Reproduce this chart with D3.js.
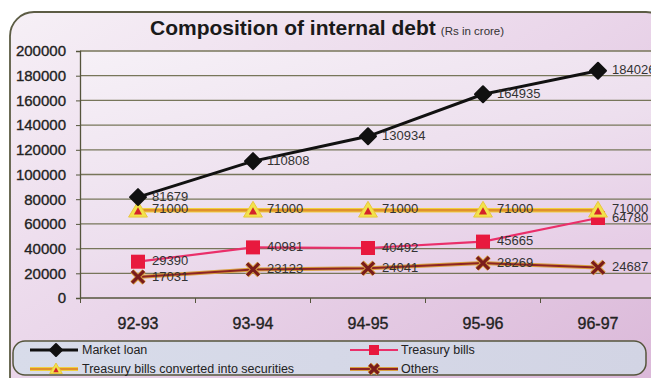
<!DOCTYPE html>
<html><head><meta charset="utf-8">
<script src="https://cdn.jsdelivr.net/npm/d3@7"></script>
<style>html,body{margin:0;padding:0;background:#fff;overflow:hidden}svg{display:block}text{font-family:"Liberation Sans",Arial,sans-serif}</style>
</head><body>
<svg id="c" width="651" height="378"></svg>
<script>
const categories = ["92-93","93-94","94-95","95-96","96-97"];
const marketLoan = [81679,110808,130934,164935,184026];
const treasuryBills = [29390,40981,40492,45665,64780];
const tbConverted = [71000,71000,71000,71000,71000];
const others = [17031,23123,24041,28269,24687];
const yTicks = [0,20000,40000,60000,80000,100000,120000,140000,160000,180000,200000];
const seriesNames = ["Market loan","Treasury bills","Treasury bills converted into securities","Others"];

const svg = d3.select("#c");
const defs = svg.append("defs");
const g1 = defs.append("linearGradient").attr("id","panel").attr("x1","0").attr("y1","0").attr("x2","1").attr("y2","1");
g1.append("stop").attr("offset","0").attr("stop-color","#f6f0f6");
g1.append("stop").attr("offset","0.45").attr("stop-color","#ead6ea");
g1.append("stop").attr("offset","1").attr("stop-color","#d9b5d7");
const g2 = defs.append("linearGradient").attr("id","plot").attr("x1","0").attr("y1","0").attr("x2","0.6").attr("y2","1");
g2.append("stop").attr("offset","0").attr("stop-color","#f6f1f7");
g2.append("stop").attr("offset","0.6").attr("stop-color","#eddfee");
g2.append("stop").attr("offset","1").attr("stop-color","#e6cde6");
const g3 = defs.append("linearGradient").attr("id","leg").attr("x1","0").attr("y1","0").attr("x2","1").attr("y2","0");
g3.append("stop").attr("offset","0").attr("stop-color","#d8dcea");
g3.append("stop").attr("offset","1").attr("stop-color","#d2d4e4");

// outer panel
svg.append("rect").attr("x",10).attr("y",12).attr("width",660).attr("height",400).attr("rx",24)
  .attr("fill","url(#panel)").attr("stroke","#5c5c44").attr("stroke-width",1.8);

const x = d3.scaleBand().domain(categories).range([80.5,655.5]).padding(0);
const y = d3.scaleLinear().domain([0,200000]).range([298,51]);
const cx = c => x(c) + x.bandwidth()/2;

// plot area
svg.append("rect").attr("x",80).attr("y",51).attr("width",575).attr("height",247).attr("fill","url(#plot)");

// gridlines
svg.append("g").selectAll("line").data(yTicks.filter(d=>d>0)).join("line")
  .attr("x1",80).attr("x2",655).attr("y1",d=>y(d)).attr("y2",d=>y(d))
  .attr("stroke","#77765a").attr("stroke-width",1.3);

// y axis
const ya = svg.append("g").attr("transform","translate(80,0)")
  .call(d3.axisLeft(y).tickValues(yTicks).tickSize(4).tickPadding(10).tickFormat(d3.format("d")));
ya.select(".domain").attr("stroke","#55553c").attr("stroke-width",1.3);
ya.selectAll(".tick line").attr("stroke","#55553c");
ya.selectAll("text").attr("font-size","15px").attr("fill","#222").attr("stroke","#222").attr("stroke-width",0.35)
  .attr("font-family","Liberation Sans, Arial, sans-serif");

// x axis
const xa = svg.append("g").attr("transform","translate(0,298)")
  .call(d3.axisBottom(x).tickSize(0).tickPadding(20));
xa.select(".domain").remove();
xa.selectAll("text").attr("font-size","16px").attr("fill","#222").attr("stroke","#222").attr("stroke-width",0.35)
  .attr("font-family","Liberation Sans, Arial, sans-serif");
svg.append("line").attr("x1",80).attr("x2",655).attr("y1",298).attr("y2",298).attr("stroke","#55553c").attr("stroke-width",1.3);
svg.append("g").selectAll("line").data(categories).join("line")
  .attr("x1",d=>x(d)).attr("x2",d=>x(d)).attr("y1",298).attr("y2",303).attr("stroke","#55553c");

const line = d3.line().x((d,i)=>cx(categories[i])).y(d=>y(d));
const plot = svg.append("g");

// Others
plot.append("path").attr("d",line(others)).attr("fill","none").attr("stroke","#d8a040").attr("stroke-width",4);
plot.append("path").attr("d",line(others)).attr("fill","none").attr("stroke","#8e2424").attr("stroke-width",2);
// Treasury bills
plot.append("path").attr("d",line(treasuryBills)).attr("fill","none").attr("stroke","#ea2f6a").attr("stroke-width",2.2);
// Converted
plot.append("path").attr("d",line(tbConverted)).attr("fill","none").attr("stroke","#f0d040").attr("stroke-width",4.5);
plot.append("path").attr("d",line(tbConverted)).attr("fill","none").attr("stroke","#e0902c").attr("stroke-width",2.5);
// Market loan
plot.append("path").attr("d",line(marketLoan)).attr("fill","none").attr("stroke","#111").attr("stroke-width",3);

function xMark(g, px, py, s){
  g.append("path").attr("d",`M${px-s},${py-s}L${px+s},${py+s}M${px-s},${py+s}L${px+s},${py-s}`)
   .attr("stroke","#d8a040").attr("stroke-width",5);
  g.append("path").attr("d",`M${px-s},${py-s}L${px+s},${py+s}M${px-s},${py+s}L${px+s},${py-s}`)
   .attr("stroke","#7a1c1c").attr("stroke-width",3.2);
}
function tri(g, px, py, s){
  g.append("path").attr("d",`M${px},${py-s}L${px+s*1.05},${py+s*0.75}L${px-s*1.05},${py+s*0.75}Z`).attr("fill","#f2e34a").attr("stroke","#e9c640").attr("stroke-width",1);
  const t=s*0.45;
  g.append("path").attr("d",`M${px},${py-t+1}L${px+t},${py+t*0.8+1}L${px-t},${py+t*0.8+1}Z`).attr("fill","#d4222a");
}
function diamond(g, px, py, s){
  g.append("path").attr("d",`M${px},${py-s}L${px+s},${py}L${px},${py+s}L${px-s},${py}Z`).attr("fill","#111").attr("stroke","#111").attr("stroke-width",2).attr("stroke-linejoin","round");
}
function square(g, px, py, s){
  g.append("rect").attr("x",px-s).attr("y",py-s).attr("width",2*s).attr("height",2*s).attr("fill","#e8193e");
}

others.forEach((v,i)=>xMark(plot, cx(categories[i]), y(v), 6));
treasuryBills.forEach((v,i)=>square(plot, cx(categories[i]), y(v), 7));
tbConverted.forEach((v,i)=>tri(plot, cx(categories[i]), y(v), 9));
marketLoan.forEach((v,i)=>diamond(plot, cx(categories[i]), y(v), 8));

// data labels
const labG = svg.append("g").attr("font-size","13px").attr("fill","#333");
[[marketLoan,-1],[tbConverted,-2],[treasuryBills,-1],[others,-1]].forEach(([arr,off])=>{
  labG.selectAll(null).data(arr).join("text")
    .attr("x",(d,i)=>cx(categories[i])+14).attr("y",(d,i)=>y(d)+off).attr("dy","0.35em").text(d=>d);
});

// title
const t = svg.append("text").attr("x",150).attr("y",35);
t.append("tspan").attr("font-size","21px").attr("font-weight","bold").attr("fill","#1a1a1a").text("Composition of internal debt");
t.append("tspan").attr("font-size","11.5px").attr("fill","#333").attr("dx",5).text("(Rs in crore)");

// legend
svg.append("rect").attr("x",13).attr("y",341).attr("width",633).attr("height",34).attr("rx",12)
  .attr("fill","url(#leg)").attr("stroke","#55553c").attr("stroke-width",1.5);
const lg = svg.append("g");
const lx = [[30,78],[350,398]];
// Market loan
lg.append("line").attr("x1",lx[0][0]).attr("x2",lx[0][1]).attr("y1",350).attr("y2",350).attr("stroke","#111").attr("stroke-width",3);
diamond(lg, 56, 350, 6);
lg.append("text").attr("x",82).attr("y",350).attr("dy","0.35em").attr("font-size","12.5px").attr("fill","#222").text(seriesNames[0]);
// Treasury bills
lg.append("line").attr("x1",lx[1][0]).attr("x2",lx[1][1]).attr("y1",350).attr("y2",350).attr("stroke","#ea2f6a").attr("stroke-width",2.2);
square(lg, 374, 350, 5);
lg.append("text").attr("x",401).attr("y",350).attr("dy","0.35em").attr("font-size","12.5px").attr("fill","#222").text(seriesNames[1]);
// Converted
lg.append("line").attr("x1",lx[0][0]).attr("x2",lx[0][1]).attr("y1",369).attr("y2",369).attr("stroke","#f0d040").attr("stroke-width",4);
lg.append("line").attr("x1",lx[0][0]).attr("x2",lx[0][1]).attr("y1",369).attr("y2",369).attr("stroke","#e0902c").attr("stroke-width",2);
tri(lg, 56, 369, 6);
lg.append("text").attr("x",82).attr("y",369).attr("dy","0.35em").attr("font-size","12.5px").attr("fill","#222").text(seriesNames[2]);
// Others
lg.append("line").attr("x1",lx[1][0]).attr("x2",lx[1][1]).attr("y1",369).attr("y2",369).attr("stroke","#d8a040").attr("stroke-width",4);
lg.append("line").attr("x1",lx[1][0]).attr("x2",lx[1][1]).attr("y1",369).attr("y2",369).attr("stroke","#8e2424").attr("stroke-width",2);
xMark(lg, 374, 369, 4.5);
lg.append("text").attr("x",401).attr("y",369).attr("dy","0.35em").attr("font-size","12.5px").attr("fill","#222").text(seriesNames[3]);
</script>
</body></html>
